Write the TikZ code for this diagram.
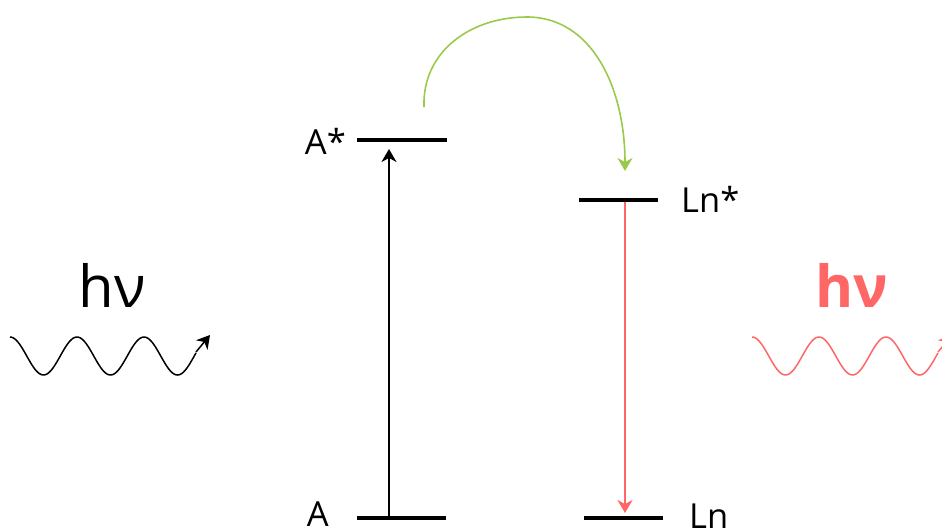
\documentclass[tikz,border=0pt]{standalone}
\usepackage{fontspec}
\setmainfont{Open Sans}
\usetikzlibrary{arrows.meta}
\definecolor{lred}{RGB}{255,102,102}
\definecolor{lgreen}{RGB}{154,202,76}
\begin{document}
\begin{tikzpicture}[x=1pt,y=-1pt,
  level/.style={line width=4.2pt},
  lbl/.style={font=\fontsize{34.5}{36}\selectfont, inner sep=0pt},
  hv/.style={font=\fontsize{58}{60}\selectfont, inner sep=0pt},
  tip/.style={-{Stealth[length=13pt,width=15pt,inset=4pt]}},
  trans/.style={line width=1.6pt,tip},
  wave/.style={line width=1.5pt}]
\useasboundingbox (0,0) rectangle (942,531);
% levels
\coordinate (a1) at (357,140); \coordinate (a2) at (447,140);
\coordinate (g1) at (357,518); \coordinate (g2) at (446,518);
\coordinate (l1) at (579,200); \coordinate (l2) at (658,200);
\coordinate (m1) at (584,518); \coordinate (m2) at (663,518);
\draw[level] (a1) -- (a2);
\draw[level] (g1) -- (g2);
\draw[level] (l1) -- (l2);
\draw[level] (m1) -- (m2);
% labels
\node[lbl, anchor=east] (tAs) at (346,141) {A*};
\node[lbl, anchor=east] (tA) at (329,514) {A};
\node[lbl, anchor=west] (tLs) at (681,199) {Ln*};
\node[lbl, anchor=west] (tL) at (689,516) {Ln};
\node[hv] (hv1) at (112,285) {hν};
\node[hv, text=lred, font=\fontsize{58}{60}\selectfont\bfseries] (hv2) at (852,285) {hν};
% transitions
\coordinate (up0) at (389,518); \coordinate (up1) at (389,149);
\draw[trans] (up0) -- (up1);
\coordinate (dn0) at (625,202); \coordinate (dn1) at (625,513);
\draw[trans, lred] (dn0) -- (dn1);
\coordinate (c0) at (424,107); \coordinate (ctop) at (527,17); \coordinate (c1) at (625,171);
\draw[line width=1.6pt, lgreen, tip] (c0) .. controls (422,52) and (470,17) .. (ctop) .. controls (592,17) and (625,88) .. (c1);
% waves
\coordinate (w1) at (196,352);
\coordinate (w1t) at (210,335);
\draw[wave] plot[domain=10:196, samples=120, smooth] (\x, {356-19*cos(5.3731*(\x-10))});
\draw[wave, tip] (w1) -- (w1t);
\draw[wave, lred] plot[domain=752:938, samples=120, smooth] (\x, {356-19*cos(5.3731*(\x-752))}) coordinate (w2);
\coordinate (w2t) at (952,335);
\draw[wave, lred, tip] (938,352) -- (w2t);
\end{tikzpicture}
\end{document}
